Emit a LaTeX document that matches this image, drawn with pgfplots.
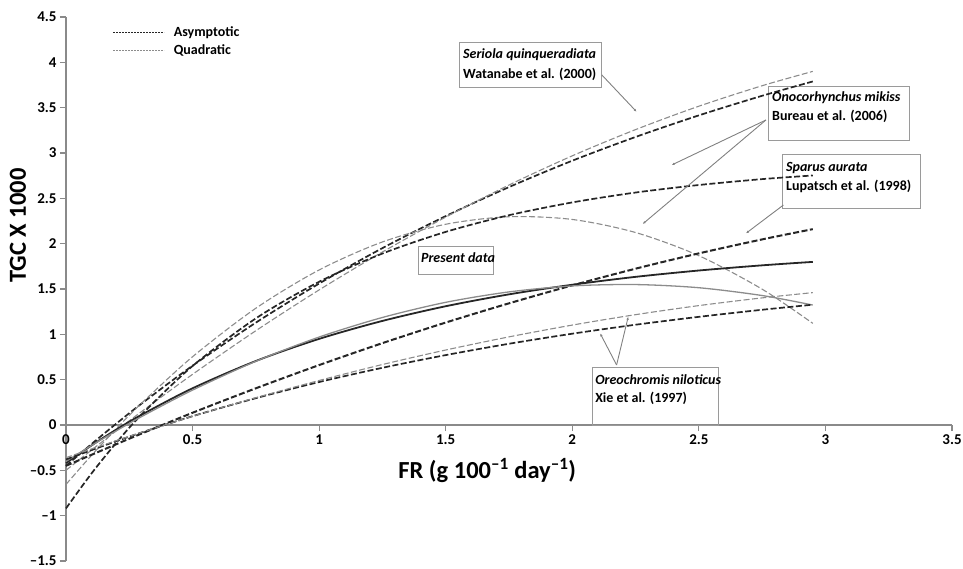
\documentclass[border=0pt]{standalone}
\usepackage{fontspec}
\setmainfont{Carlito}
\usepackage{pgfplots}
\pgfplotsset{compat=1.18}
\usetikzlibrary{arrows.meta}
\definecolor{dk}{HTML}{262626}
\definecolor{lt}{HTML}{8C8C8C}
\definecolor{axc}{HTML}{8A8A8A}
\definecolor{bx}{HTML}{9A9A9A}
\tikzset{
 asym/.style={color=dk, line width=1.7pt, dash pattern=on 6pt off 2.5pt},
 quad/.style={color=lt, line width=1.1pt, dash pattern=on 6pt off 2.5pt},
 pasym/.style={color=dk, line width=1.8pt},
 pquad/.style={color=lt, line width=1.3pt},
 box/.style={draw=bx, line width=1pt},
 lab/.style={font=\fontsize{14}{17}\selectfont\bfseries, anchor=west, inner sep=0pt},
 arr/.style={color=gray, line width=0.9pt, -{Latex[length=3pt,width=2.5pt]}}
}
\begin{document}
\begin{tikzpicture}
\begin{axis}[
 width=886pt, height=544pt, scale only axis,
 xmin=0, xmax=3.5, ymin=-1.5, ymax=4.5,
 axis y line=left, axis x line=middle,
 hide obscured x ticks=false, hide obscured y ticks=false,
 axis line style={color=axc, line width=1.3pt, -},
 xtick={0,0.5,1,1.5,2,2.5,3,3.5},
 xticklabels={0,0.5,1,1.5,2,2.5,3,3.5},
 ytick={-1.5,-1,-0.5,0,0.5,1,1.5,2,2.5,3,3.5,4,4.5},
 yticklabels={--1.5,--1,--0.5,0,0.5,1,1.5,2,2.5,3,3.5,4,4.5},
 tick align=outside, major tick length=6pt,
 tick style={color=axc, line width=1.1pt},
 ticklabel style={font=\fontsize{15}{15}\selectfont\bfseries},
 /pgf/number format/assume math mode=true,
 clip=false,
 legend style={at={(0.049,0.99)}, anchor=north west, draw=none, fill=none,
   font=\fontsize{14}{16}\selectfont\bfseries, row sep=2.5pt},
 legend cell align=left,
 legend image code/.code={\draw[#1] (0pt,0pt) -- (51pt,0pt); \path (58pt,0pt);},
]
\addlegendimage{color=dk, line width=1.2pt, dash pattern=on 2pt off 1pt}
\addlegendentry{Asymptotic}
\addlegendimage{color=lt, line width=1pt, dash pattern=on 2pt off 1pt}
\addlegendentry{Quadratic}

% boxes
\draw[box] (axis cs:1.556,4.224) rectangle (axis cs:2.117,3.717);
\draw[box] (axis cs:2.777,3.728) rectangle (axis cs:3.334,3.143);
\draw[box] (axis cs:2.832,2.978) rectangle (axis cs:3.374,2.393);
\draw[box] (axis cs:1.391,1.974) rectangle (axis cs:1.687,1.665);
\draw[box] (axis cs:2.078,0.629) rectangle (axis cs:2.576,0.0);

% Seriola asymptotic
\addplot[asym, smooth, forget plot] coordinates {(0,-0.45) (0.1,-0.212) (0.2,0.018) (0.3,0.239) (0.5,0.654) (0.75,1.129) (1,1.560) (1.25,1.951) (1.5,2.304) (1.75,2.624) (2,2.915) (2.25,3.177) (2.5,3.415) (2.75,3.631) (2.95,3.789)};
% Seriola quadratic
\addplot[quad, smooth, forget plot] coordinates {(0,-0.5) (0.1,-0.278) (0.2,-0.061) (0.3,0.151) (0.5,0.559) (0.75,1.040) (1,1.490) (1.25,1.908) (1.5,2.293) (1.75,2.647) (2,2.969) (2.25,3.258) (2.5,3.516) (2.75,3.742) (2.95,3.900)};
% Oncorhynchus quadratic
\addplot[quad, smooth, forget plot] coordinates {(0,-0.655) (0.1,-0.337) (0.2,-0.037) (0.3,0.244) (0.5,0.753) (0.75,1.288) (1,1.710) (1.25,2.019) (1.5,2.214) (1.75,2.297) (2,2.267) (2.25,2.123) (2.5,1.867) (2.75,1.498) (2.95,1.121)};
% asymptotic ending 2.75
\addplot[asym, smooth, forget plot] coordinates {(0,-0.92) (0.1,-0.537) (0.2,-0.192) (0.3,0.119) (0.5,0.651) (0.75,1.176) (1,1.580) (1.25,1.891) (1.5,2.130) (1.75,2.314) (2,2.455) (2.25,2.564) (2.5,2.647) (2.75,2.712) (2.95,2.752)};
% Sparus
\addplot[asym, smooth, line width=2pt, forget plot] coordinates {(0,-0.45) (0.25,-0.151) (0.5,0.135) (0.75,0.405) (1,0.661) (1.25,0.903) (1.5,1.130) (1.75,1.342) (2,1.540) (2.25,1.724) (2.5,1.893) (2.75,2.047) (2.95,2.160)};
% Present data asymptotic
\addplot[pasym, smooth, forget plot] coordinates {(0,-0.42) (0.1,-0.227) (0.2,-0.048) (0.3,0.115) (0.5,0.405) (0.75,0.706) (1,0.950) (1.25,1.148) (1.5,1.310) (1.75,1.441) (2,1.547) (2.25,1.634) (2.5,1.704) (2.75,1.761) (2.95,1.799)};
% Present data quadratic
\addplot[pquad, smooth, forget plot] coordinates {(0,-0.401) (0.1,-0.227) (0.2,-0.062) (0.3,0.095) (0.5,0.385) (0.75,0.703) (1,0.970) (1.25,1.186) (1.5,1.353) (1.75,1.468) (2,1.534) (2.25,1.549) (2.5,1.514) (2.75,1.428) (2.95,1.323)};
% Oreochromis asymptotic
\addplot[asym, smooth, forget plot] coordinates {(0,-0.38) (0.25,-0.128) (0.5,0.097) (0.75,0.296) (1,0.474) (1.25,0.631) (1.5,0.771) (1.75,0.896) (2,1.007) (2.25,1.106) (2.5,1.193) (2.75,1.271) (2.95,1.327)};
% Oreochromis quadratic
\addplot[quad, smooth, forget plot] coordinates {(0,-0.36) (0.25,-0.125) (0.5,0.096) (0.75,0.301) (1,0.491) (1.25,0.667) (1.5,0.827) (1.75,0.972) (2,1.102) (2.25,1.217) (2.5,1.317) (2.75,1.402) (2.95,1.460)};

% labels
\node[lab] at (axis cs:1.568,4.081) {\itshape Seriola quinqueradiata};
\node[lab] at (axis cs:1.568,3.871) {Watanabe et al. (2000)};
\node[lab] at (axis cs:2.789,3.606) {\itshape Onocorhynchus mikiss};
\node[lab] at (axis cs:2.789,3.408) {Bureau et al. (2006)};
\node[lab] at (axis cs:2.844,2.834) {\itshape Sparus aurata};
\node[lab] at (axis cs:2.844,2.636) {Lupatsch et al. (1998)};
\node[lab] at (axis cs:1.402,1.842) {\itshape Present data};
\node[lab] at (axis cs:2.090,0.496) {\itshape Oreochromis niloticus};
\node[lab] at (axis cs:2.090,0.298) {Xie et al. (1997)};

% arrows
\draw[arr] (axis cs:2.117,3.860) -- (axis cs:2.254,3.455);
\draw[arr] (axis cs:2.765,3.364) -- (axis cs:2.393,2.868);
\draw[arr] (axis cs:2.765,3.364) -- (axis cs:2.278,2.217);
\draw[arr] (axis cs:2.834,2.426) -- (axis cs:2.686,2.114);
\draw[arr] (axis cs:2.175,0.662) -- (axis cs:2.110,1.011);
\draw[arr] (axis cs:2.175,0.662) -- (axis cs:2.221,1.194);

% axis titles
\node[font=\fontsize{24.5}{24.5}\selectfont\bfseries] at (axis cs:1.664,-0.50) {FR (g 100\textsuperscript{--1} day\textsuperscript{--1})};
\node[rotate=90, font=\fontsize{24.5}{24.5}\selectfont\bfseries] at (axis cs:-0.19,2.2) {TGC X 1000};

\coordinate (bl) at (axis cs:0,-1.5);
\coordinate (tr) at (axis cs:3.5,4.5);
\end{axis}
\pgfresetboundingbox
\path ([xshift=-66pt,yshift=-7pt]bl) rectangle ([xshift=11pt,yshift=17pt]tr);
\end{tikzpicture}
\end{document}
